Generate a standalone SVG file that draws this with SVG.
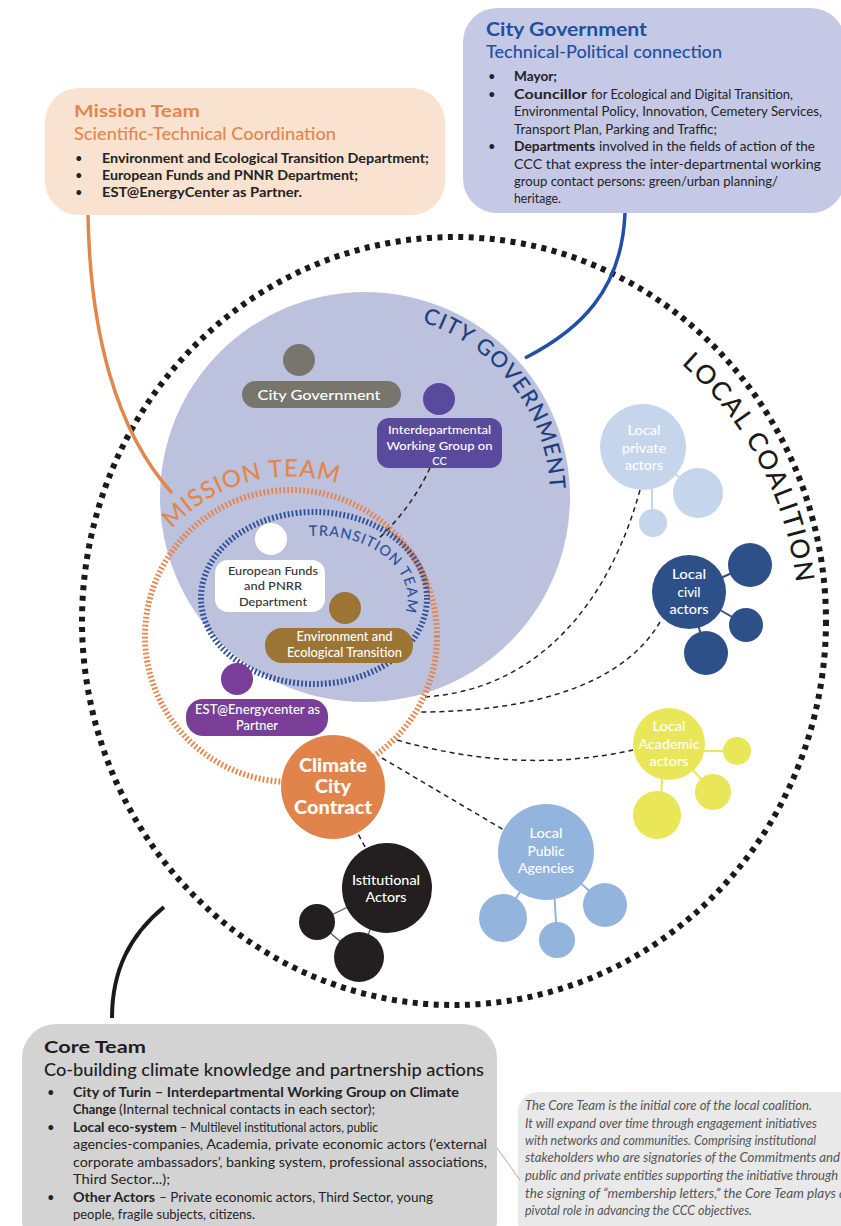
<svg xmlns="http://www.w3.org/2000/svg" width="841" height="1226" viewBox="0 0 841 1226">
<defs>
<style>
text{font-family:Lato,"Liberation Sans",sans-serif;}
.b{font-weight:bold;}
.body{font-size:13px;fill:#232323;}
.pill{font-size:12.5px;fill:#fff;text-anchor:middle;font-weight:500;}
.node{font-size:13.5px;fill:#fff;text-anchor:middle;font-weight:500;}
.ccc{font-size:18px;fill:#fff;text-anchor:middle;font-weight:900;}
.it{font-size:12.5px;fill:#555;font-style:italic;}
.dash{fill:none;stroke:#222;stroke-width:1.5;stroke-dasharray:5 4;}
.arc{font-size:22px;letter-spacing:1.2px;font-weight:500;}
</style>
</defs>
<rect width="841" height="1226" fill="#fff"/>

<!-- Info boxes -->
<g id="mission-box">
<rect x="45" y="88" width="400" height="127" rx="34" fill="#f9e2d0"/>
<text x="74" y="117" class="b" font-size="17" fill="#e2874b" textLength="126" lengthAdjust="spacingAndGlyphs">Mission Team</text>
<text x="74" y="140" font-size="16.5" fill="#e2874b" font-weight="500" textLength="262" lengthAdjust="spacingAndGlyphs">Scientific-Technical Coordination</text>
<text x="75" y="163" class="body">•</text>
<text x="102" y="163" class="body b" textLength="327" lengthAdjust="spacingAndGlyphs">Environment and Ecological Transition Department;</text>
<text x="75" y="180" class="body">•</text>
<text x="102" y="180" class="body b" textLength="256" lengthAdjust="spacingAndGlyphs">European Funds and PNNR Department;</text>
<text x="75" y="197" class="body">•</text>
<text x="102" y="197" class="body b" textLength="200" lengthAdjust="spacingAndGlyphs">EST@EnergyCenter as Partner.</text>
</g>

<g id="citygov-box">
<rect x="463" y="8" width="382" height="205" rx="34" fill="#c5c9e6"/>
<text x="486" y="36" class="b" font-size="18" fill="#2150a0" textLength="161" lengthAdjust="spacingAndGlyphs">City Government</text>
<text x="486" y="58" font-size="17" fill="#2150a0" font-weight="500" textLength="236" lengthAdjust="spacingAndGlyphs">Technical-Political connection</text>
<text x="488" y="81" class="body">•</text>
<text x="514" y="81" class="body b" textLength="43" lengthAdjust="spacingAndGlyphs">Mayor;</text>
<text x="488" y="98.5" class="body">•</text>
<text x="514" y="98.5" class="body b" textLength="73" lengthAdjust="spacingAndGlyphs">Councillor</text>
<text x="591" y="98.5" class="body" textLength="202" lengthAdjust="spacingAndGlyphs">for Ecological and Digital Transition,</text>
<text x="514" y="116" class="body" textLength="308" lengthAdjust="spacingAndGlyphs">Environmental Policy, Innovation, Cemetery Services,</text>
<text x="514" y="133.5" class="body" textLength="203" lengthAdjust="spacingAndGlyphs">Transport Plan, Parking and Traffic;</text>
<text x="488" y="151" class="body">•</text>
<text x="514" y="151" class="body b" textLength="81" lengthAdjust="spacingAndGlyphs">Departments</text>
<text x="599" y="151" class="body" textLength="216" lengthAdjust="spacingAndGlyphs">involved in the fields of action of the</text>
<text x="514" y="168.5" class="body" textLength="307" lengthAdjust="spacingAndGlyphs">CCC that express the inter-departmental working</text>
<text x="514" y="186" class="body" textLength="264" lengthAdjust="spacingAndGlyphs">group contact persons: green/urban planning/</text>
<text x="514" y="203" class="body" textLength="47" lengthAdjust="spacingAndGlyphs">heritage.</text>
</g>

<g id="coreteam-box">
<rect x="22" y="1024" width="475" height="230" rx="34" fill="#d3d3d3"/>
<text x="44" y="1053" class="b" font-size="17.5" fill="#1e1e1e" textLength="102" lengthAdjust="spacingAndGlyphs">Core Team</text>
<text x="44" y="1076" font-size="17.5" fill="#1e1e1e" font-weight="500" textLength="440" lengthAdjust="spacingAndGlyphs">Co-building climate knowledge and partnership actions</text>
<text x="47" y="1097" class="body">•</text>
<text x="73" y="1097" class="body b" textLength="386" lengthAdjust="spacingAndGlyphs">City of Turin – Interdepartmental Working Group on Climate</text>
<text x="73" y="1114" class="body b" textLength="43" lengthAdjust="spacingAndGlyphs">Change</text>
<text x="119" y="1114" class="body" textLength="256" lengthAdjust="spacingAndGlyphs">(Internal technical contacts in each sector);</text>
<text x="47" y="1132" class="body">•</text>
<text x="73" y="1132" class="body b" textLength="104" lengthAdjust="spacingAndGlyphs">Local eco-system</text>
<text x="180" y="1132" class="body" textLength="198" lengthAdjust="spacingAndGlyphs">– Multilevel institutional actors, public</text>
<text x="73" y="1149" class="body" textLength="414" lengthAdjust="spacingAndGlyphs">agencies-companies, Academia, private economic actors (‘external</text>
<text x="73" y="1167" class="body" textLength="414" lengthAdjust="spacingAndGlyphs">corporate ambassadors’, banking system, professional associations,</text>
<text x="73" y="1184" class="body" textLength="97" lengthAdjust="spacingAndGlyphs">Third Sector...);</text>
<text x="47" y="1202" class="body">•</text>
<text x="73" y="1202" class="body b" textLength="82" lengthAdjust="spacingAndGlyphs">Other Actors</text>
<text x="159" y="1202" class="body" textLength="274" lengthAdjust="spacingAndGlyphs">– Private economic actors, Third Sector, young</text>
<text x="73" y="1219" class="body" textLength="182" lengthAdjust="spacingAndGlyphs">people, fragile subjects, citizens.</text>
</g>

<g id="note-box">
<rect x="518" y="1092" width="340" height="150" rx="20" fill="#e9e9e9"/>
<text x="525" y="1110" class="it" textLength="287" lengthAdjust="spacingAndGlyphs">The Core Team is the initial core of the local coalition.</text>
<text x="525" y="1128" class="it" textLength="292" lengthAdjust="spacingAndGlyphs">It will expand over time through engagement initiatives</text>
<text x="525" y="1145" class="it" textLength="291" lengthAdjust="spacingAndGlyphs">with networks and communities. Comprising institutional</text>
<text x="525" y="1162" class="it" textLength="315" lengthAdjust="spacingAndGlyphs">stakeholders who are signatories of the Commitments and</text>
<text x="525" y="1180" class="it" textLength="313" lengthAdjust="spacingAndGlyphs">public and private entities supporting the initiative through</text>
<text x="525" y="1198" class="it" textLength="321" lengthAdjust="spacingAndGlyphs">the signing of “membership letters,” the Core Team plays a</text>
<text x="525" y="1215" class="it" textLength="227" lengthAdjust="spacingAndGlyphs">pivotal role in advancing the CCC objectives.</text>
</g>

<!-- Coalition ring -->
<g id="local-coalition">
<ellipse cx="454" cy="621" rx="372" ry="384" fill="none" stroke="#1a1a1a" stroke-width="6" stroke-dasharray="5 5.5"/>
<path id="pLC" d="M681.3,364.1 A343,343 0 0 1 797,590" fill="none"/>
<text font-size="26" fill="#1a1a1a" letter-spacing="1.8" font-weight="500"><textPath href="#pLC">LOCAL COALITION</textPath></text>
</g>

<g id="city-government-area">
<circle cx="365" cy="497" r="205" fill="#bcc1dd"/>
<path id="pCG" d="M421.9,322 A184,184 0 0 1 550,490" fill="none"/>
<text class="arc" fill="#1d3f7f"><textPath href="#pCG">CITY GOVERNMENT</textPath></text>
</g>

<!-- Connectors -->
<g id="connectors">
<path d="M88,215 C90,330 115,430 172,493" fill="none" stroke="#e2874b" stroke-width="3.5"/>
<path d="M625,213 C622,290 580,330 525,358" fill="none" stroke="#2150a8" stroke-width="3.5"/>
<path d="M112,1018 C112,970 130,935 164,907" fill="none" stroke="#1a1a1a" stroke-width="4"/>
<path d="M497,1148 L520,1180" fill="none" stroke="#aaa" stroke-width="1"/>
<path class="dash" d="M430,468 Q410,510 377,540"/>
<path class="dash" d="M640,490 C610,600 540,690 424,697"/>
<path class="dash" d="M660,622 C620,690 520,712 418,712"/>
<path class="dash" d="M397,740 Q520,775 633,750"/>
<path class="dash" d="M382,758 L504,830"/>
<path class="dash" d="M333,787 L387,888"/>
</g>

<g id="mission-team">
<circle cx="291" cy="636" r="146" fill="none" stroke="#e8844a" stroke-width="6" stroke-dasharray="1.8 2.2"/>
<path id="pMT" d="M172.1,528.9 A160,160 0 0 1 350,488" fill="none"/>
<text font-size="24" fill="#e2874b" letter-spacing="0.8" font-weight="500"><textPath href="#pMT">MISSION TEAM</textPath></text>
</g>

<g id="transition-team">
<ellipse cx="314" cy="598" rx="113" ry="86" fill="none" stroke="#2d4f97" stroke-width="6" stroke-dasharray="1.8 2.2"/>
<path id="pTT" d="M309.3,536.1 A89,62 0 0 1 405,612" fill="none"/>
<text font-size="14.5" fill="#2d4f97" letter-spacing="0.9" font-weight="500"><textPath href="#pTT">TRANSITION TEAM</textPath></text>
</g>

<!-- Nodes -->
<g id="node-city-government">
<circle cx="299" cy="360" r="16" fill="#78766c"/>
<rect x="242" y="381" width="159" height="27" rx="13.5" fill="#78766c"/>
<text x="319" y="400" class="pill" font-size="15" textLength="123" lengthAdjust="spacingAndGlyphs">City Government</text>
</g>

<g id="node-interdepartmental">
<circle cx="439" cy="399" r="16" fill="#5a4a9e"/>
<rect x="377" y="418" width="125" height="50" rx="12" fill="#5a4a9e"/>
<text x="439.5" y="434" class="pill" style="font-size:11px" textLength="103" lengthAdjust="spacingAndGlyphs">Interdepartmental</text>
<text x="439.5" y="449.5" class="pill" style="font-size:11px" textLength="106" lengthAdjust="spacingAndGlyphs">Working Group on</text>
<text x="439.5" y="465" class="pill" style="font-size:11px">CC</text>
</g>

<g id="node-european-funds">
<circle cx="271" cy="539" r="16" fill="#fff"/>
<rect x="215" y="560" width="110" height="52" rx="13" fill="#fff"/>
<text x="273" y="575" class="pill" style="fill:#333;font-size:12px" textLength="90" lengthAdjust="spacingAndGlyphs">European Funds</text>
<text x="273" y="590" class="pill" style="fill:#333;font-size:12px" textLength="58" lengthAdjust="spacingAndGlyphs">and PNRR</text>
<text x="273" y="606" class="pill" style="fill:#333;font-size:12px" textLength="68" lengthAdjust="spacingAndGlyphs">Department</text>
</g>

<g id="node-environment">
<circle cx="345" cy="608" r="16" fill="#9c7434"/>
<rect x="265" y="628" width="148" height="35" rx="17" fill="#9c7434"/>
<text x="344.5" y="641" class="pill" textLength="96" lengthAdjust="spacingAndGlyphs">Environment and</text>
<text x="344.5" y="656.5" class="pill" textLength="115" lengthAdjust="spacingAndGlyphs">Ecological Transition</text>
</g>

<g id="node-est">
<circle cx="237" cy="679" r="16" fill="#7a3e98"/>
<rect x="186" y="699" width="142" height="37" rx="17" fill="#7a3e98"/>
<text x="257.5" y="714" class="pill" textLength="125" lengthAdjust="spacingAndGlyphs">EST@Energycenter as</text>
<text x="257" y="730" class="pill" textLength="42" lengthAdjust="spacingAndGlyphs">Partner</text>
</g>

<g id="node-ccc">
<circle cx="333" cy="787" r="52" fill="#e0844b"/>
<text x="333" y="772" class="ccc" textLength="68" lengthAdjust="spacingAndGlyphs">Climate</text>
<text x="333" y="793" class="ccc" textLength="36" lengthAdjust="spacingAndGlyphs">City</text>
<text x="333" y="814" class="ccc" textLength="78" lengthAdjust="spacingAndGlyphs">Contract</text>
</g>

<g id="node-institutional" stroke="#555" stroke-width="1.2">
<line x1="387" y1="888" x2="317" y2="922"/>
<line x1="317" y1="922" x2="359" y2="957"/>
<line x1="387" y1="888" x2="359" y2="957"/>
<circle cx="387" cy="888" r="45" fill="#231f20" stroke="none"/>
<circle cx="317" cy="922" r="18" fill="#231f20" stroke="none"/>
<circle cx="359" cy="957" r="25" fill="#231f20" stroke="none"/>
<text x="386" y="885" class="node" stroke="none" textLength="68" lengthAdjust="spacingAndGlyphs">Istitutional</text>
<text x="386" y="902" class="node" stroke="none" textLength="41" lengthAdjust="spacingAndGlyphs">Actors</text>
</g>

<g id="node-local-private" fill="#c5d5ec" stroke="#c5d5ec" stroke-width="2">
<line x1="643" y1="447" x2="698" y2="493"/>
<line x1="652" y1="470" x2="652" y2="515"/>
<circle cx="643" cy="447" r="43" stroke="none"/>
<circle cx="698" cy="493" r="25" stroke="none"/>
<circle cx="653" cy="523" r="14" stroke="none"/>
<text x="644" y="435" class="node" stroke="none" textLength="33" lengthAdjust="spacingAndGlyphs">Local</text>
<text x="644" y="453" class="node" stroke="none" textLength="44" lengthAdjust="spacingAndGlyphs">private</text>
<text x="644" y="470" class="node" stroke="none" textLength="38" lengthAdjust="spacingAndGlyphs">actors</text>
</g>

<g id="node-local-civil" fill="#2e5089" stroke="#2e5089" stroke-width="2">
<line x1="689" y1="592" x2="750" y2="565"/>
<line x1="689" y1="592" x2="746" y2="625"/>
<line x1="689" y1="592" x2="706" y2="653"/>
<circle cx="689" cy="592" r="37" stroke="none"/>
<circle cx="750" cy="565" r="22" stroke="none"/>
<circle cx="746" cy="625" r="17" stroke="none"/>
<circle cx="706" cy="653" r="22" stroke="none"/>
<text x="689" y="579" class="node" stroke="none" textLength="34" lengthAdjust="spacingAndGlyphs">Local</text>
<text x="689" y="597" class="node" stroke="none" textLength="23" lengthAdjust="spacingAndGlyphs">civil</text>
<text x="689" y="614" class="node" stroke="none" textLength="39" lengthAdjust="spacingAndGlyphs">actors</text>
</g>

<g id="node-local-academic" fill="#e9e657" stroke="#e9e657" stroke-width="2">
<line x1="669" y1="751" x2="737" y2="751"/>
<line x1="669" y1="744" x2="713" y2="792"/>
<line x1="664" y1="744" x2="660" y2="815"/>
<circle cx="669" cy="744" r="36" stroke="none"/>
<circle cx="737" cy="751" r="14" stroke="none"/>
<circle cx="713" cy="792" r="18" stroke="none"/>
<circle cx="657" cy="815" r="24" stroke="none"/>
<text x="669" y="731" class="node" stroke="none" textLength="33" lengthAdjust="spacingAndGlyphs">Local</text>
<text x="669" y="749" class="node" stroke="none" textLength="61" lengthAdjust="spacingAndGlyphs">Academic</text>
<text x="669" y="766" class="node" stroke="none" textLength="39" lengthAdjust="spacingAndGlyphs">actors</text>
</g>

<g id="node-local-public" fill="#93b4dd" stroke="#93b4dd" stroke-width="2">
<line x1="546" y1="852" x2="503" y2="918"/>
<line x1="552" y1="852" x2="557" y2="940"/>
<line x1="546" y1="852" x2="605" y2="905"/>
<circle cx="546" cy="852" r="48" stroke="none"/>
<circle cx="503" cy="918" r="24" stroke="none"/>
<circle cx="557" cy="940" r="18" stroke="none"/>
<circle cx="605" cy="905" r="22" stroke="none"/>
<text x="546" y="838" class="node" stroke="none" textLength="33" lengthAdjust="spacingAndGlyphs">Local</text>
<text x="546" y="856" class="node" stroke="none" textLength="37" lengthAdjust="spacingAndGlyphs">Public</text>
<text x="546" y="873" class="node" stroke="none" textLength="56" lengthAdjust="spacingAndGlyphs">Agencies</text>
</g>
</svg>
